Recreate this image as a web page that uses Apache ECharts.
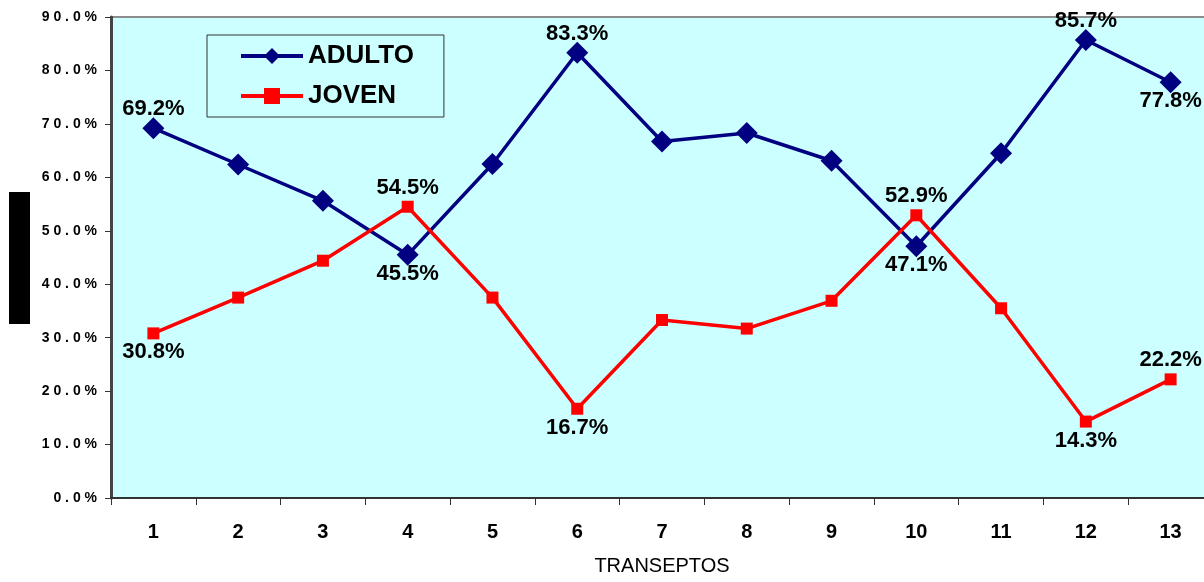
<!DOCTYPE html>
<html>
<head>
<meta charset="utf-8">
<script src="https://cdn.jsdelivr.net/npm/echarts@6/dist/echarts.min.js"></script>
<style>
  html, body { margin: 0; padding: 0; background: #fff; overflow: hidden; }
  /* el área del gráfico se sale un poco por la derecha, como en el original */
  #chart { width: 1214px; height: 582px; }
</style>
</head>
<body>
<div id="chart"></div>
<script>
'use strict';

// transectos 1..13
const categories = ['1', '2', '3', '4', '5', '6', '7', '8', '9', '10', '11', '12', '13'];
const adulto = [69.2, 62.4, 55.6, 45.5, 62.5, 83.3, 66.7, 68.3, 63.1, 47.1, 64.5, 85.7, 77.8];
const joven = [30.8, 37.5, 44.4, 54.5, 37.5, 16.7, 33.3, 31.7, 36.9, 52.9, 35.5, 14.3, 22.2];
// donde va la etiqueta (null = sin etiqueta)
const adultoLabelPos = ['top', null, null, 'bottom', null, 'top', null, null, null, 'bottom', null, 'top', 'bottom'];
const jovenLabelPos = ['bottom', null, null, 'top', null, 'bottom', null, null, null, 'top', null, 'bottom', 'top'];
const yTicks = [0, 10, 20, 30, 40, 50, 60, 70, 80, 90];

const FONT = 'Arial, "Liberation Sans", sans-serif';

function withLabels(values, pos) {
  return values.map((v, i) => ({
    value: v,
    label: pos[i] ? { show: true, position: pos[i] } : { show: false }
  }));
}

const chart = echarts.init(document.getElementById('chart'), null, { renderer: 'canvas' });

chart.setOption({
  animation: false,
  textStyle: { fontFamily: FONT },
  grid: {
    left: 111, top: 17, width: 1102, height: 481,
    show: true, backgroundColor: '#ccffff', borderColor: '#8c8c8c', borderWidth: 2
  },
  legend: {
    orient: 'vertical',
    left: 207, top: 35,
    padding: [8, 30, 8, 32],
    backgroundColor: '#ccffff',
    borderColor: '#333', borderWidth: 1,
    itemWidth: 62, itemHeight: 20, itemGap: 14,
    lineStyle: { width: 4 },
    textStyle: { fontSize: 26, fontWeight: 'bold', color: '#000', fontFamily: FONT },
    data: ['ADULTO', 'JOVEN']
  },
  xAxis: {
    type: 'category',
    data: categories,
    boundaryGap: true,
    name: 'TRANSEPTOS',
    nameLocation: 'middle',
    nameGap: 58,
    nameTextStyle: { fontSize: 20, color: '#000', fontFamily: FONT },
    axisLine: { lineStyle: { color: '#333', width: 2 } },
    axisTick: { show: true, length: 7, lineStyle: { color: '#333' } },
    axisLabel: { fontSize: 20, fontWeight: 'bold', color: '#000', margin: 24 },
    splitLine: { show: false }
  },
  yAxis: {
    type: 'value',
    min: yTicks[0], max: yTicks[yTicks.length - 1], interval: 10,
    axisLine: { show: true, lineStyle: { color: '#444', width: 3 } },
    axisTick: { show: true, length: 6, lineStyle: { color: '#333' } },
    axisLabel: {
      fontSize: 14, fontWeight: 'bold', color: '#000', margin: 14,
      formatter: (v) => (v.toFixed(1) + '%').split('').join(' ')
    },
    splitLine: { show: false }
  },
  graphic: [
    { type: 'rect', left: 9, top: 192, shape: { width: 21, height: 132 }, style: { fill: '#000' } }
  ],
  series: [
    {
      name: 'ADULTO', type: 'line',
      data: withLabels(adulto, adultoLabelPos),
      symbol: 'diamond', symbolSize: 22,
      itemStyle: { color: '#000080' },
      lineStyle: { color: '#000080', width: 3.5 },
      label: { fontSize: 22, fontWeight: 'bold', color: '#000', distance: -3,
        formatter: (p) => p.value.toFixed(1) + '%' }
    },
    {
      name: 'JOVEN', type: 'line',
      data: withLabels(joven, jovenLabelPos),
      symbol: 'rect', symbolSize: 12,
      itemStyle: { color: '#ff0000' },
      lineStyle: { color: '#ff0000', width: 3.5 },
      label: { fontSize: 22, fontWeight: 'bold', color: '#000', distance: 2,
        formatter: (p) => p.value.toFixed(1) + '%' }
    }
  ]
});
</script>
</body>
</html>
